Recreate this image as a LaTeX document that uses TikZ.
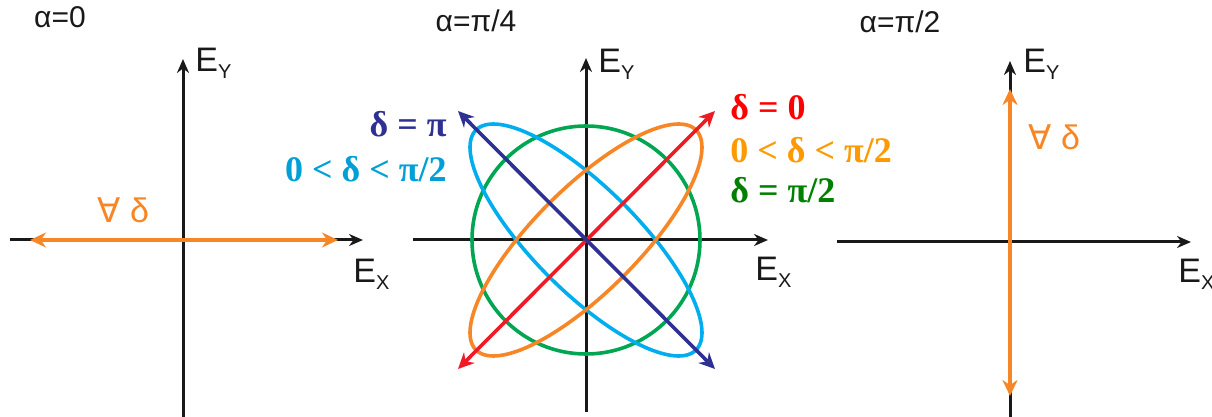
\documentclass[tikz,border=0pt]{standalone}
\usepackage{fontspec}
\setmainfont{Liberation Serif}
\setsansfont{Liberation Sans}
\newfontfamily\symfont{DejaVu Sans}
\usepackage{tikz}
\usetikzlibrary{arrows.meta}

\definecolor{axgray}{RGB}{25,25,25}
\definecolor{lred}{RGB}{237,28,36}
\definecolor{lorange}{RGB}{246,134,38}
\definecolor{lcyan}{RGB}{0,174,239}
\definecolor{lgreen}{RGB}{0,166,81}
\definecolor{lnavy}{RGB}{46,49,146}
\definecolor{tred}{RGB}{255,0,0}
\definecolor{torange}{RGB}{255,153,0}
\definecolor{tcyan}{RGB}{0,160,215}
\definecolor{tgreen}{RGB}{0,128,0}

\newcommand{\efield}[1]{E\raisebox{-0.35ex}{\fontsize{10}{12}\selectfont #1}}

\begin{document}
\begin{tikzpicture}[
  x=0.5pt, y=-0.5pt,
  axis/.style={draw=axgray, line width=1.5pt, -{Stealth[length=7pt, width=6pt]}},
  wave/.style={line width=1.8pt, {Stealth[length=8pt, width=7.5pt]}-{Stealth[length=8pt, width=7.5pt]}},
  orbit/.style={line width=1.8pt},
  title/.style={font=\sffamily\fontsize{15}{17}\selectfont, text=axgray, inner sep=0pt},
  axlabel/.style={font=\sffamily\fontsize{17}{20}\selectfont, text=axgray, inner sep=0pt, anchor=north west},
  dlabel/.style={font=\bfseries\fontsize{18}{21}\selectfont, inner sep=0pt},
  alllabel/.style={font=\sffamily\fontsize{17}{20}\selectfont, text=lorange, inner sep=0pt, anchor=base west}
]
\useasboundingbox (0,0) rectangle (1212,417);

%% Panel 1: alpha = 0
\coordinate (xl1) at (10,240);
\coordinate (xr1) at (363,240);
\coordinate (yb1) at (183,417);
\coordinate (yt1) at (183,59);
\draw[axis] (yb1) -- (yt1);
\draw[axis] (xl1) -- (xr1);
\coordinate (pl1) at (30,240);
\coordinate (pr1) at (338,240);
\draw[wave, lorange] (pl1) -- (pr1);
\node[title] (alpha0) at (60,17) {α=0};
\node[axlabel] (ey1) at (195,48) {\efield{Y}};
\node[axlabel] (ex1) at (353,259) {\efield{X}};
\node[alllabel] (all1) at (97,223) {{\symfont ∀} δ};

%% Panel 2: alpha = pi/4
\coordinate (o2) at (586,240);
\coordinate (xl2) at (413,240);
\coordinate (xr2) at (768,240);
\coordinate (yb2) at (586,412);
\coordinate (yt2) at (586,58);
\draw[axis] (yb2) -- (yt2);
\draw[axis] (xl2) -- (xr2);
\draw[orbit, lgreen] (o2) circle[radius=114];
\draw[orbit, lcyan] plot[smooth cycle, domain=0:355, samples=72]
  ({586+116*cos(\x)}, {240+116*cos(\x+37)});
\draw[orbit, lorange] plot[smooth cycle, domain=0:355, samples=72]
  ({586+116*cos(\x)}, {240-116*cos(\x+37)});
\coordinate (rl2) at (458,369);
\coordinate (ru2) at (715,111);
\coordinate (bl2) at (458,111);
\coordinate (bu2) at (715,369);
\draw[wave, lred] (rl2) -- (ru2);
\draw[wave, lnavy] (bl2) -- (bu2);
\node[title] (alpha4) at (476,21) {α=π/4};
\node[axlabel] (ey2) at (598,49) {\efield{Y}};
\node[axlabel] (ex2) at (755,257) {\efield{X}};

%% Labels of the curves
\node[dlabel, text=lnavy, anchor=base east] (dpi) at (447,137) {δ = π};
\node[dlabel, text=tcyan, anchor=base east] (dneg) at (447,182) {0 < δ < π/2};
\node[dlabel, text=tred, anchor=base west] (dzero) at (730,120) {δ = 0};
\node[dlabel, text=torange, anchor=base west] (dpos) at (730,163) {0 < δ < π/2};
\node[dlabel, text=tgreen, anchor=base west] (dhalf) at (730,203) {δ = π/2};

%% Panel 3: alpha = pi/2
\coordinate (xl3) at (837,242);
\coordinate (xr3) at (1191,242);
\coordinate (yb3) at (1010,417);
\coordinate (yt3) at (1010,61);
\draw[axis] (yb3) -- (yt3);
\draw[axis] (xl3) -- (xr3);
\coordinate (pb3) at (1010,396);
\coordinate (pt3) at (1010,89);
\draw[wave, lorange] (pb3) -- (pt3);
\node[title] (alpha2) at (900,22) {α=π/2};
\node[axlabel] (ey3) at (1023,49) {\efield{Y}};
\node[axlabel] (ex3) at (1178,259) {\efield{X}};
\node[alllabel] (all3) at (1028,150) {{\symfont ∀} δ};
\end{tikzpicture}
\end{document}
